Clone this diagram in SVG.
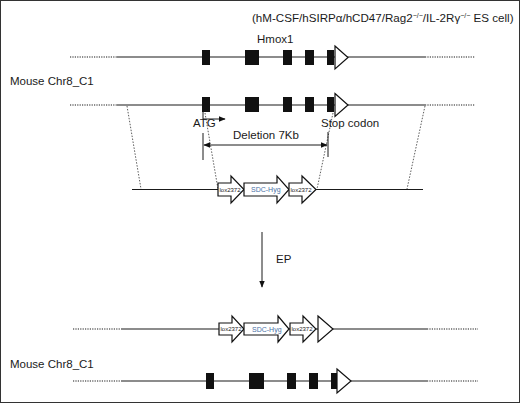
<svg xmlns="http://www.w3.org/2000/svg" width="520" height="403" viewBox="0 0 520 403">
<style>
text{font-family:"Liberation Sans",Arial,sans-serif;fill:#1a1a1a}
.lbl{font-size:11.5px}
.small{font-size:6px}
.sdc{font-size:7px;fill:#4a72a6}
.line{stroke:#1a1a1a;stroke-width:1.2;fill:none}
.dot{stroke:#1a1a1a;stroke-width:1.2;stroke-dasharray:1.2 1.2;fill:none}
.ddot{stroke:#333;stroke-width:0.8;stroke-dasharray:1.5 1.5;fill:none}
.exon{fill:#111}
.blk{fill:#fff;stroke:#111;stroke-width:1.2;stroke-linejoin:miter}
.thin{stroke:#1a1a1a;stroke-width:1;fill:none}
</style>
<defs>
<marker id="ah" viewBox="0 0 10 10" refX="9" refY="5" markerWidth="7" markerHeight="7" orient="auto-start-reverse" markerUnits="userSpaceOnUse">
<path d="M0,1 L10,5 L0,9 Z" fill="#111"/>
</marker>
</defs>
<rect x="0.5" y="0.5" width="519" height="402" fill="#fff" stroke="#333" stroke-width="1"/>

<text x="252" y="22" style="font-size:11.6px">(hM-CSF/hSIRPα/hCD47/Rag2<tspan dy="-4" style="font-size:7px">−/−</tspan><tspan dy="4">/IL-2Rγ</tspan><tspan dy="-4" style="font-size:7px">−/−</tspan><tspan dy="4"> ES cell)</tspan></text>

<g id="connectors">
<path class="ddot" d="M127,106 L141,189"/>
<path class="ddot" d="M205,113 L218,189"/>
<path class="ddot" d="M333,113 L317,189"/>
<path class="ddot" d="M425,106 L407,189"/>
<path class="thin" d="M203,112 L203,119 L225,119" marker-end="url(#ah)"/>
<path class="thin" d="M203,133 L203,160"/>
<path class="thin" d="M328,132 L328,157"/>
<path class="thin" d="M204,145 L327,145" marker-start="url(#ah)" marker-end="url(#ah)"/>
<path class="thin" d="M262,232 L262,287" marker-end="url(#ah)"/>
</g>

<g id="wt-allele">
<text class="lbl" x="257" y="43">Hmox1</text>
<path class="dot" d="M70,57 L117,57"/>
<path class="line" d="M117,57 L425,57"/>
<path class="dot" d="M425,57 L475,57"/>
<rect class="exon" x="202" y="50" width="8" height="15"/>
<rect class="exon" x="245" y="50" width="14" height="15"/>
<rect class="exon" x="283" y="50" width="9" height="15"/>
<rect class="exon" x="305" y="50" width="9" height="15"/>
<rect class="exon" x="327" y="50" width="7" height="15"/>
<path class="blk" d="M335,46 L348,57.5 L335,69 Z"/>
</g>

<g id="mouse-label-1">
<text class="lbl" x="10" y="85">Mouse Chr8_C1</text>
</g>

<g id="mouse-allele">
<path class="dot" d="M70,105 L117,105"/>
<path class="line" d="M117,105 L425,105"/>
<path class="dot" d="M425,105 L475,105"/>
<rect class="exon" x="202" y="97" width="8" height="15"/>
<rect class="exon" x="245" y="97" width="14" height="15"/>
<rect class="exon" x="283" y="97" width="9" height="15"/>
<rect class="exon" x="305" y="97" width="9" height="15"/>
<rect class="exon" x="327" y="97" width="7" height="15"/>
<path class="blk" d="M335,93.5 L348,105 L335,116.5 Z"/>
<text class="lbl" x="193" y="127">ATG</text>
<text class="lbl" x="321" y="127">Stop codon</text>
<text class="lbl" x="233" y="139">Deletion 7Kb</text>
</g>

<g id="targeting-vector">
<path class="line" d="M132,189.5 L423,189.5"/>
<path class="blk" d="M218,183 L231,183 L231,176 L244,189.5 L231,203 L231,196 L218,196 Z"/>
<text class="small" x="219.5" y="191.6">lox2372</text>
<path class="blk" d="M244,183 L277,183 L277,176 L289,189.5 L277,203 L277,196 L244,196 Z"/>
<text class="sdc" x="251" y="192">SDC-Hyg</text>
<path class="blk" d="M289,183 L302,183 L302,176 L316,189.5 L302,203 L302,196 L289,196 Z"/>
<text class="small" x="290.5" y="191.6">lox2372</text>
</g>

<g id="ep">
<text class="lbl" x="276" y="263">EP</text>
</g>

<g id="targeted-allele">
<path class="dot" d="M73,329 L122,329"/>
<path class="line" d="M122,329 L427,329"/>
<path class="dot" d="M427,329 L478,329"/>
<path class="blk" d="M219,323 L232,323 L232,316 L244,329 L232,342 L232,335 L219,335 Z"/>
<text class="small" x="220.5" y="331.2">lox2372</text>
<path class="blk" d="M244,323 L278,323 L278,316 L289,329 L278,342 L278,335 L244,335 Z"/>
<text class="sdc" x="252" y="331.5">SDC-Hyg</text>
<path class="blk" d="M290,323 L303,323 L303,316 L316,329 L303,342 L303,335 L290,335 Z"/>
<text class="small" x="291.5" y="331.2">lox2372</text>
<path class="blk" d="M318,316 L333,329 L318,342 Z"/>
</g>

<g id="mouse-label-2">
<text class="lbl" x="10" y="368">Mouse Chr8_C1</text>
</g>

<g id="mouse-allele-2">
<path class="dot" d="M73,381 L122,381"/>
<path class="line" d="M122,381 L427,381"/>
<path class="dot" d="M427,381 L478,381"/>
<rect class="exon" x="206" y="373" width="8" height="16"/>
<rect class="exon" x="249" y="373" width="15" height="16"/>
<rect class="exon" x="287" y="373" width="9" height="16"/>
<rect class="exon" x="309" y="373" width="9" height="16"/>
<rect class="exon" x="331" y="373" width="6" height="16"/>
<path class="blk" d="M337,369 L351,381 L337,393 Z"/>
</g>
</svg>
